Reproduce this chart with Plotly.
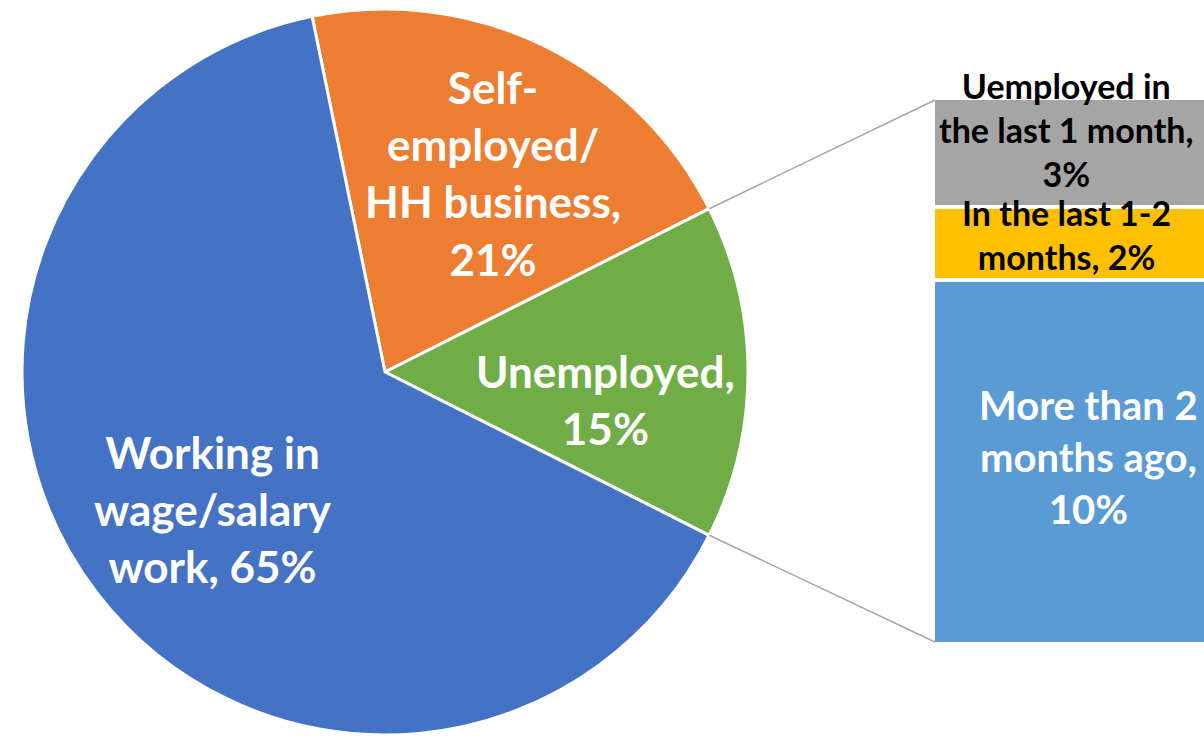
import math
import plotly.graph_objects as go

# Main pie: employment status (percent)
pie_labels = ["Self-employed/ HH business", "Unemployed", "Working in wage/salary work"]
pie_values = [21, 15, 65]
pie_colors = ["#ED7D31", "#70AD47", "#4472C4"]
pie_text = ["Self-<br>employed/<br>HH business,<br>21%", "Unemployed,<br>15%",
            "Working in<br>wage/salary<br>work, 65%"]

# Breakdown of the unemployed slice: when they last worked (percent)
bar_labels = ["More than 2 months ago", "In the last 1-2 months", "Uemployed in the last 1 month"]
bar_values = [10, 2, 3]
bar_colors = ["#5B9BD5", "#FFC000", "#A5A5A5"]
bar_text = ["More than 2<br>months ago,<br>10%", "In the last 1-2<br>months, 2%",
            "Uemployed in<br>the last 1 month,<br>3%"]
bar_text_colors = ["white", "black", "black"]

W, H = 1204, 737
FONT = "Lato"

def px(x):
    return x / W

def py(y):
    return 1 - y / H

# pie geometry (pixels)
cx, cy, R = 385, 372, 363
total = sum(pie_values)
# rotate so the unemployed slice is centred at 3 o'clock
unemp_start = 90 - 360 * pie_values[1] / total / 2
rotation = unemp_start - 360 * pie_values[0] / total

fig = go.Figure()
fig.add_trace(go.Pie(
    labels=pie_labels, values=pie_values, sort=False, direction="clockwise",
    rotation=rotation,
    marker=dict(colors=pie_colors, line=dict(color="white", width=3)),
    textinfo="none", hoverinfo="label+percent",
    domain=dict(x=[px(cx - R), px(cx + R)], y=[py(cy + R), py(cy - R)]),
    showlegend=False,
))

for lab, val, col in zip(bar_labels, bar_values, bar_colors):
    fig.add_trace(go.Bar(
        x=[0], y=[val], name=lab, width=1,
        marker=dict(color=col, line=dict(color="white", width=4)),
        showlegend=False, hoverinfo="name+y",
    ))

# bar placement: left edge at 933 px, centre at 1088 px
bar_left, bar_mid, bar_top, bar_bot = 933, 1088, 98, 644
ux = (bar_mid - bar_left) / 0.5
dom0 = 0.72
x_lo = -0.5 - (bar_left - dom0 * W) / ux
x_hi = (W - bar_mid) / ux
uy = (bar_bot - bar_top) / sum(bar_values)
y_lo = -(H - bar_bot) / uy
y_hi = sum(bar_values) + bar_top / uy

fig.update_layout(
    width=W, height=H, margin=dict(l=0, r=0, t=0, b=0),
    paper_bgcolor="white", plot_bgcolor="white", barmode="stack",
    xaxis=dict(domain=[dom0, 1], range=[x_lo, x_hi], visible=False, fixedrange=True),
    yaxis=dict(domain=[0, 1], range=[y_lo, y_hi], visible=False, fixedrange=True),
)

# connector lines from the unemployed slice edges to the bar corners
a1 = math.radians(unemp_start)
a2 = math.radians(unemp_start + 360 * pie_values[1] / total)
for ang, by in ((a1, bar_top + 2), (a2, bar_bot - 2)):
    x0 = cx + R * math.sin(ang)
    y0 = cy - R * math.cos(ang)
    fig.add_shape(type="line", xref="paper", yref="paper",
                  x0=px(x0), y0=py(y0), x1=px(bar_left + 2), y1=py(by),
                  line=dict(color="#A6A6A6", width=1.5))

# slice labels
pie_label_pos = [(493, 173), (605, 399), (213, 509)]
for txt, (lx, ly) in zip(pie_text, pie_label_pos):
    fig.add_annotation(x=px(lx), y=py(ly), xref="paper", yref="paper",
                       text=f"<b>{txt}</b>", showarrow=False,
                       font=dict(family=FONT, size=44, color="white"),
                       xanchor="center", yanchor="middle")

bar_label_pos = [(1088, 457), (1066, 234), (1066, 130)]
for txt, col, (lx, ly) in zip(bar_text, bar_text_colors, bar_label_pos):
    fig.add_annotation(x=px(lx), y=py(ly), xref="paper", yref="paper",
                       text=f"<b>{txt}</b>", showarrow=False,
                       font=dict(family=FONT, size=40 if col == "white" else 34, color=col),
                       xanchor="center", yanchor="middle")

fig.write_html("out.html")
